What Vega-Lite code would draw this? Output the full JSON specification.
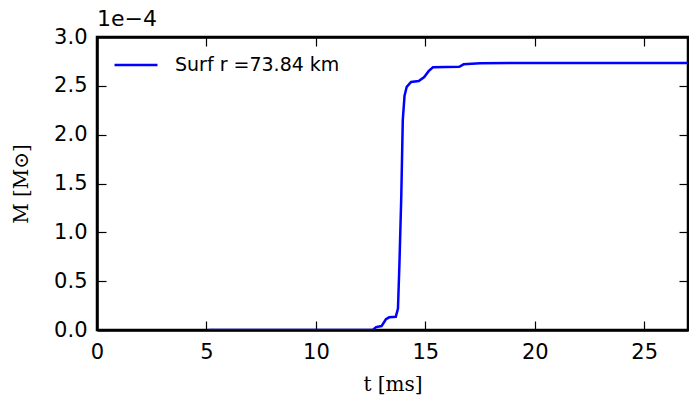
{
  "$schema": "https://vega.github.io/schema/vega-lite/v6.json",
  "width": 591,
  "height": 293,
  "autosize": {"type": "none"},
  "padding": {"left": 97, "top": 37, "right": 1, "bottom": 73},
  "background": "white",
  "title": {
    "text": "1e−4",
    "anchor": "start",
    "frame": "group",
    "font": "DejaVu Sans",
    "fontSize": 22,
    "fontWeight": "normal",
    "color": "black",
    "offset": -5
  },
  "config": {
    "view": {"stroke": "black", "strokeWidth": 2.5},
    "axis": {
      "domainColor": "black",
      "domainWidth": 2.5,
      "tickColor": "black",
      "tickWidth": 1.2,
      "tickSize": -9,
      "grid": false,
      "labelFlush": false,
      "labelFont": "DejaVu Sans",
      "labelFontSize": 21,
      "labelColor": "black",
      "titleFont": "DejaVu Serif",
      "titleFontSize": 20,
      "titleFontWeight": "normal",
      "titleColor": "black"
    }
  },
  "data": {
    "values": [
      {"t": 5.1, "M": 0.0, "series": "Surf r =73.84 km"},
      {"t": 12.6, "M": 0.0, "series": "Surf r =73.84 km"},
      {"t": 12.75, "M": 0.000003, "series": "Surf r =73.84 km"},
      {"t": 13.0, "M": 0.000004, "series": "Surf r =73.84 km"},
      {"t": 13.2, "M": 0.000011, "series": "Surf r =73.84 km"},
      {"t": 13.35, "M": 0.000013, "series": "Surf r =73.84 km"},
      {"t": 13.65, "M": 0.0000135, "series": "Surf r =73.84 km"},
      {"t": 13.75, "M": 0.000022, "series": "Surf r =73.84 km"},
      {"t": 13.82, "M": 0.00007, "series": "Surf r =73.84 km"},
      {"t": 13.9, "M": 0.000136, "series": "Surf r =73.84 km"},
      {"t": 13.97, "M": 0.000215, "series": "Surf r =73.84 km"},
      {"t": 14.05, "M": 0.00024, "series": "Surf r =73.84 km"},
      {"t": 14.15, "M": 0.000249, "series": "Surf r =73.84 km"},
      {"t": 14.35, "M": 0.000254, "series": "Surf r =73.84 km"},
      {"t": 14.7, "M": 0.000255, "series": "Surf r =73.84 km"},
      {"t": 14.95, "M": 0.000259, "series": "Surf r =73.84 km"},
      {"t": 15.15, "M": 0.000265, "series": "Surf r =73.84 km"},
      {"t": 15.35, "M": 0.000269, "series": "Surf r =73.84 km"},
      {"t": 16.55, "M": 0.0002695, "series": "Surf r =73.84 km"},
      {"t": 16.75, "M": 0.000272, "series": "Surf r =73.84 km"},
      {"t": 17.5, "M": 0.000273, "series": "Surf r =73.84 km"},
      {"t": 20.0, "M": 0.0002735, "series": "Surf r =73.84 km"},
      {"t": 27.0, "M": 0.0002735, "series": "Surf r =73.84 km"}
    ]
  },
  "layer": [
    {
      "mark": {"type": "line", "strokeWidth": 2.5, "clip": true},
      "encoding": {
        "x": {
          "field": "t",
          "type": "quantitative",
          "scale": {"domain": [0, 27], "nice": false, "zero": false},
          "axis": {
            "orient": "bottom",
            "values": [0, 5, 10, 15, 20, 25],
            "title": "t [ms]",
            "labelPadding": 20,
            "titlePadding": 12
          }
        },
        "y": {
          "field": "M",
          "type": "quantitative",
          "scale": {"domain": [0, 0.0003], "nice": false},
          "axis": {
            "orient": "left",
            "values": [0, 0.00005, 0.0001, 0.00015, 0.0002, 0.00025, 0.0003],
            "labelExpr": "format(datum.value * 10000, '.1f')",
            "title": "M [M⊙]",
            "labelPadding": 19,
            "titlePadding": 22
          }
        },
        "color": {
          "field": "series",
          "type": "nominal",
          "scale": {"range": ["#0000ff"]},
          "legend": {
            "title": null,
            "orient": "none",
            "legendX": 16,
            "legendY": 5,
            "symbolType": "stroke",
            "symbolSize": 1849,
            "symbolStrokeWidth": 2.5,
            "labelFont": "DejaVu Sans",
            "labelFontSize": 19,
            "labelColor": "black",
            "labelOffset": 16,
            "labelLimit": 400
          }
        }
      }
    },
    {
      "mark": {"type": "line", "opacity": 0},
      "encoding": {
        "x": {
          "field": "t",
          "type": "quantitative",
          "axis": {
            "orient": "top",
            "values": [0, 5, 10, 15, 20, 25],
            "labels": false,
            "title": null
          }
        },
        "y": {
          "field": "M",
          "type": "quantitative",
          "axis": {
            "orient": "right",
            "values": [0, 0.00005, 0.0001, 0.00015, 0.0002, 0.00025, 0.0003],
            "labels": false,
            "title": null
          }
        }
      }
    }
  ],
  "resolve": {"axis": {"x": "independent", "y": "independent"}}
}
